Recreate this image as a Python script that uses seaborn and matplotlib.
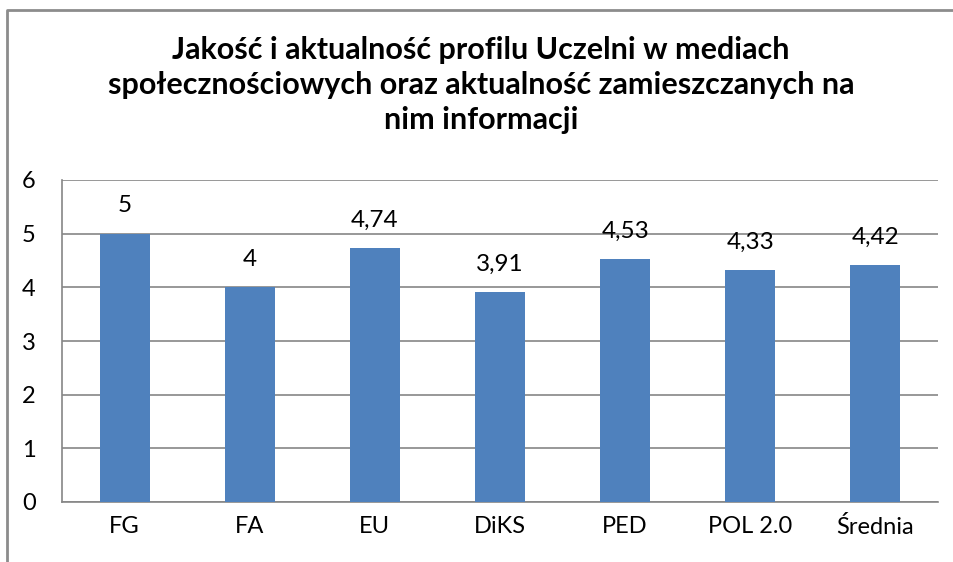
import pandas as pd
import seaborn as sns
import matplotlib.pyplot as plt
from matplotlib.lines import Line2D

# data
categories = ['FG', 'FA', 'EU', 'DiKS', 'PED', 'POL 2.0', 'Średnia']
values = [5, 4, 4.74, 3.91, 4.53, 4.33, 4.42]
labels = ['5', '4', '4,74', '3,91', '4,53', '4,33', '4,42']
title = ('Jakość i aktualność profilu Uczelni w mediach\n'
         'społecznościowych oraz aktualność zamieszczanych na\n'
         'nim informacji')

df = pd.DataFrame({'cat': categories, 'val': values})

sns.set_style('white')
plt.rcParams['font.family'] = ['Lato', 'DejaVu Sans']
plt.rcParams['text.color'] = 'black'
plt.rcParams['xtick.color'] = 'black'
plt.rcParams['ytick.color'] = 'black'

W, H = 954, 562
fig = plt.figure(figsize=(W / 100, H / 100), dpi=100)
ax = fig.add_axes([62 / W, 1 - 502 / H, (938 - 62) / W, (502 - 180) / H])

sns.barplot(data=df, x='cat', y='val', color='#4f81bd', saturation=1,
            width=0.4, linewidth=0, ax=ax, zorder=3)

ax.set_ylim(0, 6)
ax.set_xlim(-0.5, len(categories) - 0.5)
ax.set_yticks(range(0, 7))
ax.yaxis.grid(True, color='#868686', linewidth=1.2, zorder=0)
ax.set_xlabel('')
ax.set_ylabel('')

for s in ['top', 'right']:
    ax.spines[s].set_visible(False)
for s in ['left', 'bottom']:
    ax.spines[s].set_color('#868686')
    ax.spines[s].set_linewidth(1.2)

# category boundary ticks on x axis
ax.set_xticks([i - 0.5 for i in range(len(categories) + 1)], minor=True)
ax.tick_params(axis='x', which='minor', length=6, color='#868686', width=1.2, direction='out')
ax.tick_params(axis='x', which='major', length=0, labelsize=17, pad=10)
ax.tick_params(axis='y', length=7, color='#868686', width=1.2, labelsize=17, pad=12)

for i, (v, lab) in enumerate(zip(values, labels)):
    ax.text(i, v + 0.32, lab, ha='center', va='bottom', fontsize=17.5)

fig.text(481 / W, 1 - 85 / H, title, ha='center', va='center',
         fontsize=22, fontweight='bold', linespacing=1.32)

# outer chart border (left and top edges visible)
fig.add_artist(Line2D([7 / W, 7 / W, 1.0], [0.0, 1 - 10 / H, 1 - 10 / H],
                      transform=fig.transFigure, color='#8c8c8c', linewidth=2))

fig.savefig('out.png', dpi=100)
